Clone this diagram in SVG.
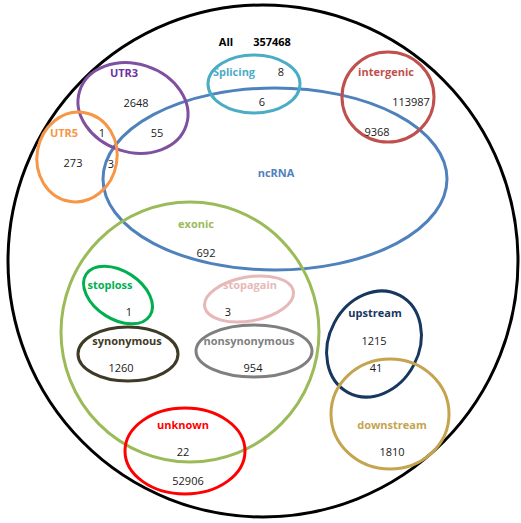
<svg xmlns="http://www.w3.org/2000/svg" width="521" height="523" viewBox="0 0 521 523">
<style>
ellipse{fill:none;stroke-width:3}
text{font-family:"Open Sans","Liberation Sans",sans-serif;font-size:11px;text-anchor:middle}
.n{fill:#1a1a1a}
.l{font-weight:bold}
</style>
<rect width="521" height="523" fill="#fff"/>
<g id="all"><ellipse cx="263" cy="261" rx="255" ry="256" stroke="#000"/>
<text class="l" x="226" y="46" fill="#000">All</text><text class="l" x="272" y="46" fill="#000">357468</text></g>
<g id="ncRNA"><ellipse cx="275" cy="179" rx="172" ry="91" stroke="#4F81BD"/>
<text class="l" x="276" y="177" fill="#4F81BD">ncRNA</text></g>
<g id="utr3"><ellipse cx="133" cy="108" rx="56" ry="44" transform="rotate(18 133 108)" stroke="#7F4FA0"/>
<text class="l" x="124" y="77" fill="#7030A0">UTR3</text><text class="n" x="136" y="107">2648</text><text class="n" x="157" y="137">55</text><text class="n" x="102" y="137">1</text></g>
<g id="utr5"><ellipse cx="77" cy="157" rx="40" ry="45" transform="rotate(10 77 157)" stroke="#F79646"/>
<text class="l" x="64" y="137" fill="#F79646">UTR5</text><text class="n" x="73" y="167">273</text><text class="n" x="111" y="168">3</text></g>
<g id="splicing"><ellipse cx="254" cy="84" rx="46" ry="29" stroke="#4BACC6"/>
<text class="l" x="234" y="76" fill="#4BACC6">Splicing</text><text class="n" x="281" y="76">8</text><text class="n" x="262" y="106">6</text></g>
<g id="intergenic"><ellipse cx="388" cy="97" rx="46" ry="45" stroke="#C0504D"/>
<text class="l" x="386" y="76" fill="#C0504D">intergenic</text><text class="n" x="411" y="106">113987</text><text class="n" x="377" y="136">9368</text></g>
<g id="exonic"><ellipse cx="190" cy="332" rx="129" ry="130" stroke="#9BBB59"/>
<text class="l" x="196" y="228" fill="#9BBB59">exonic</text><text class="n" x="206" y="257">692</text></g>
<g id="stoploss"><ellipse cx="118" cy="295" rx="38" ry="24" transform="rotate(33 118 295)" stroke="#00B050"/>
<text class="l" x="110" y="289" fill="#00B050">stoploss</text><text class="n" x="129" y="316">1</text></g>
<g id="stopagain"><ellipse cx="249" cy="299" rx="45" ry="22" transform="rotate(-10 249 299)" stroke="#E6B9B8"/>
<text class="l" x="250" y="289" fill="#E6B9B8">stopagain</text><text class="n" x="228" y="316">3</text></g>
<g id="synonymous"><ellipse cx="128" cy="354" rx="50" ry="27" stroke="#3F3A26"/>
<text class="l" x="127" y="345" fill="#3F3A26">synonymous</text><text class="n" x="121" y="372">1260</text></g>
<g id="nonsynonymous"><ellipse cx="254" cy="351" rx="58" ry="26" stroke="#7F7F7F"/>
<text class="l" x="249" y="345" fill="#7F7F7F">nonsynonymous</text><text class="n" x="253" y="372">954</text></g>
<g id="unknown"><ellipse cx="185" cy="451" rx="60" ry="43" stroke="#FF0000"/>
<text class="l" x="183" y="429" fill="#FF0000">unknown</text><text class="n" x="183" y="456">22</text><text class="n" x="188" y="485">52906</text></g>
<g id="upstream"><ellipse cx="374" cy="344" rx="45" ry="55" transform="rotate(28 374 344)" stroke="#17375E"/>
<text class="l" x="375" y="317" fill="#17375E">upstream</text><text class="n" x="374" y="345">1215</text><text class="n" x="376" y="372">41</text></g>
<g id="downstream"><ellipse cx="390" cy="414" rx="59" ry="55" stroke="#C4A44F"/>
<text class="l" x="392" y="429" fill="#C4A44F">downstream</text><text class="n" x="392" y="456">1810</text></g>
<g id="connectors"/>
</svg>
